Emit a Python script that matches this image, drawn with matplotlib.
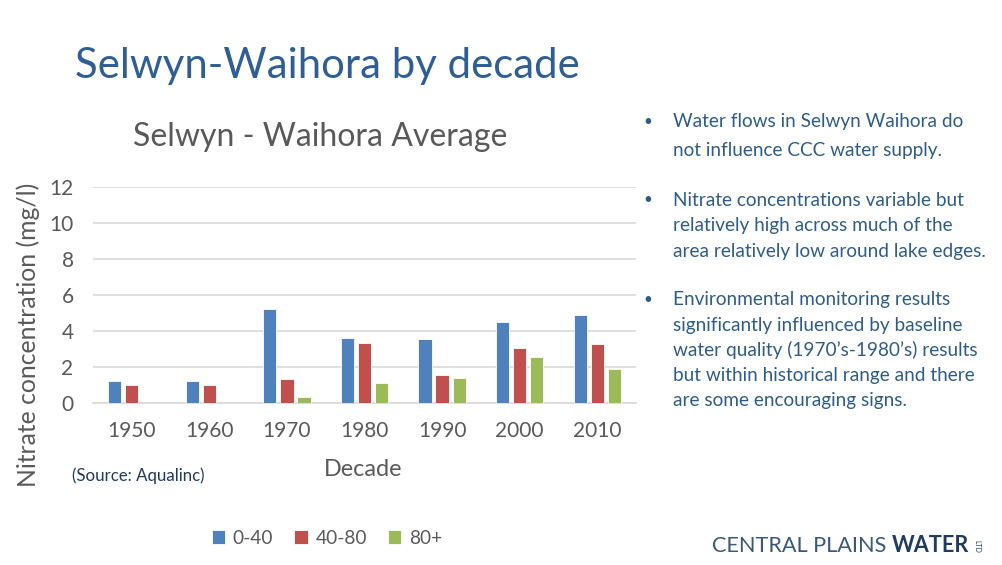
import numpy as np
import matplotlib
matplotlib.use("Agg")
import matplotlib.pyplot as plt

decades = ["1950", "1960", "1970", "1980", "1990", "2000", "2010"]
depth_0_40 = [1.21, 1.21, 5.21, 3.60, 3.55, 4.51, 4.87]
depth_40_80 = [0.98, 0.98, 1.34, 3.36, 1.53, 3.08, 3.28]
depth_80_plus = [np.nan, np.nan, 0.36, 1.13, 1.40, 2.58, 1.87]
series_labels = ["0-40", "40-80", "80+"]
yticks = [0, 2, 4, 6, 8, 10, 12]

bullets = [
    ["Water flows in Selwyn Waihora do", "not influence CCC water supply."],
    ["Nitrate concentrations variable but", "relatively high across much of the",
     "area relatively low around lake edges."],
    ["Environmental monitoring results", "significantly influenced by baseline",
     "water quality (1970\u2019s-1980\u2019s) results", "but within historical range and there",
     "are some encouraging signs."],
]

FONT = ["Lato", "DejaVu Sans"]
plt.rcParams["font.family"] = FONT

W, H = 1003, 565
fig = plt.figure(figsize=(W / 100, H / 100), dpi=100)
fig.patch.set_facecolor("white")

def px(x, y):
    return x / W, 1 - y / H

# axes
ax = fig.add_axes([93 / W, 1 - 403 / H, 543 / W, (403 - 187) / H])
x = np.arange(len(decades))
bw = 0.17
step = 0.22
colors = ["#4F81BD", "#C0504D", "#9BBB59"]
for i, (vals, c, lab) in enumerate(zip([depth_0_40, depth_40_80, depth_80_plus], colors, series_labels)):
    ax.bar(x + (i - 1) * step, vals, width=bw, color=c, label=lab, zorder=3,
           edgecolor="white", linewidth=0.6)
ax.set_xlim(-0.5, len(decades) - 0.5)
ax.set_ylim(0, 12)
ax.set_yticks(yticks)
ax.set_xticks(x)
ax.set_xticklabels(decades)
ax.yaxis.grid(True, color="#D9D9D9", linewidth=1.2, zorder=0)
for s in ["top", "right", "left"]:
    ax.spines[s].set_visible(False)
ax.spines["bottom"].set_color("#D9D9D9")
ax.spines["bottom"].set_linewidth(1.2)
ax.tick_params(axis="both", length=0, colors="#595959", labelsize=15)
ax.tick_params(axis="y", pad=14)
ax.tick_params(axis="x", pad=13)
ax.set_facecolor("white")

# chart title and labels
fig.text(*px(320, 137), "Selwyn - Waihora Average", ha="center", va="center",
         fontsize=23, color="#595959")
fig.text(*px(28, 335), "Nitrate concentration (mg/l)", ha="center", va="center",
         rotation=90, fontsize=17.8, color="#595959")
fig.text(*px(363, 470), "Decade", ha="center", va="center", fontsize=16.8, color="#595959")
fig.text(*px(72, 476), "(Source: Aqualinc)", ha="left", va="center", fontsize=12.1,
         color="#1F3864")

# legend
handles, labels = ax.get_legend_handles_labels()
leg = fig.legend(handles, labels, loc="center", bbox_to_anchor=px(327, 538), ncol=3,
                 frameon=False, fontsize=13.8, handlelength=0.7, handleheight=0.7,
                 handletextpad=0.4, columnspacing=1.1, labelcolor="#595959")

# slide title
fig.text(*px(75, 66), "Selwyn-Waihora by decade", ha="left", va="center",
         fontsize=30.2, color="#2E5E95")

# bullets
text_color = "#2E5C8A"
starts = [122, 200, 300]
line_gaps = [29, 25.5, 25.2]
for b, y0, gap in zip(bullets, starts, line_gaps):
    fig.text(*px(648, y0), "\u2022", ha="center", va="center", fontsize=11, color=text_color)
    for k, line in enumerate(b):
        fig.text(*px(673, y0 + k * gap), line, ha="left", va="center", fontsize=13.7,
                 color=text_color)

# logo
t1 = fig.text(*px(712, 546), "CENTRAL PLAINS ", ha="left", va="center", fontsize=15.6,
              color="#3A5878", fontweight="normal")
fig.canvas.draw()
bb = t1.get_window_extent()
t2 = fig.text(bb.x1 / W, 1 - 546 / H, "WATER", ha="left", va="center", fontsize=15.6,
              color="#1F3B60", fontweight="bold")
fig.canvas.draw()
bb2 = t2.get_window_extent()
fig.text(bb2.x1 / W + 0.004, 1 - 546 / H, "LTD", ha="left", va="center", fontsize=5,
         rotation=270, color="#1F3B60")

fig.savefig("out.png", dpi=100, facecolor="white")
